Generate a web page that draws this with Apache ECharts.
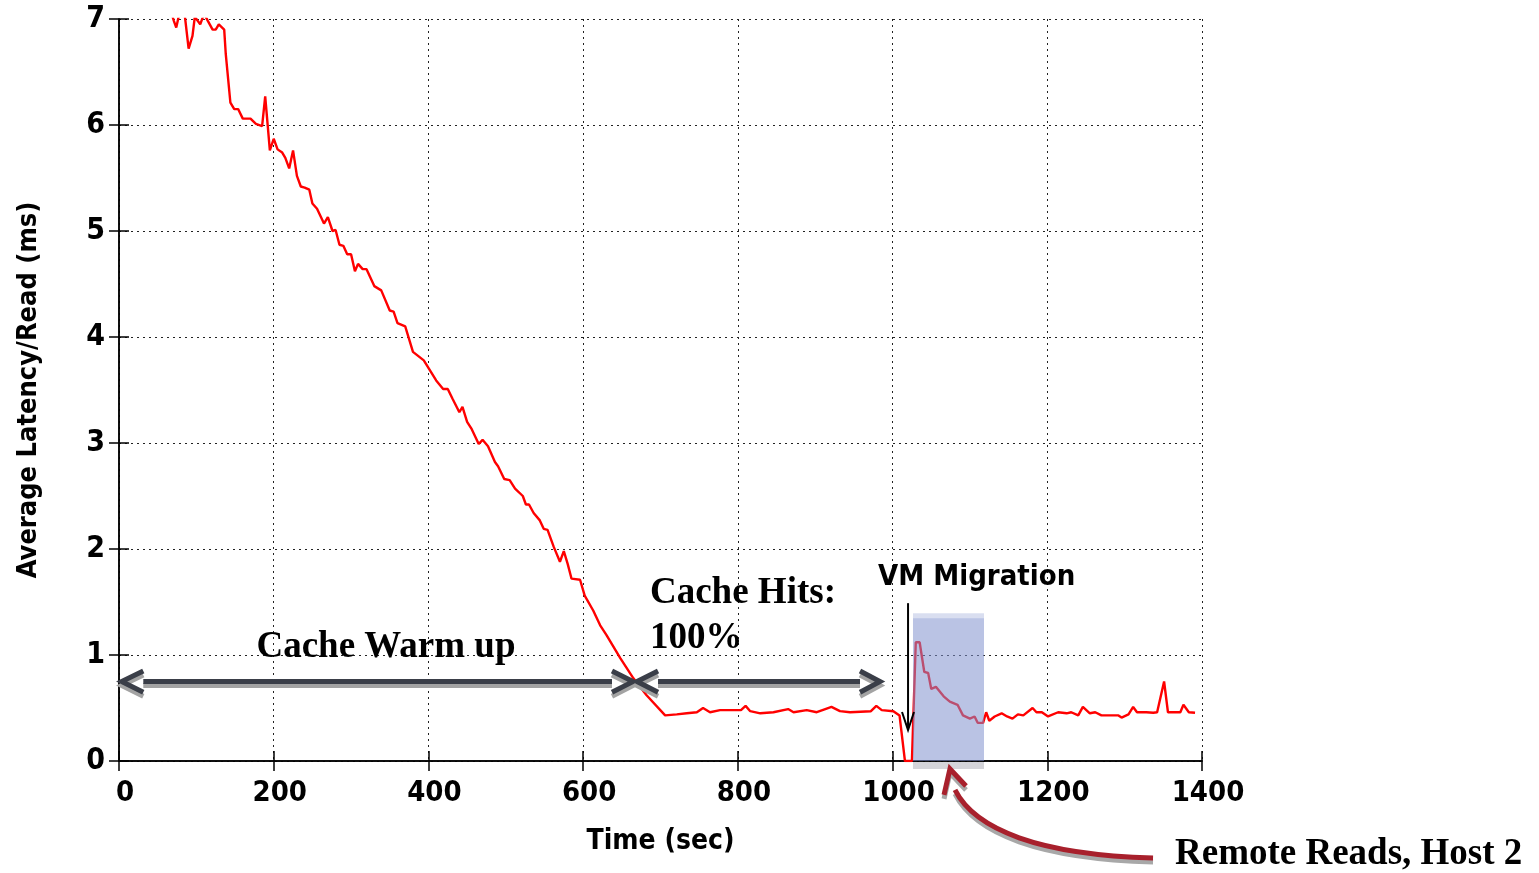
<!DOCTYPE html>
<html>
<head>
<meta charset="utf-8">
<script src="https://cdn.jsdelivr.net/npm/echarts@6/dist/echarts.min.js"></script>
<style>
  html, body { margin: 0; padding: 0; background: #fff; }
  #chart { width: 1539px; height: 873px; }
</style>
</head>
<body>
<div id="chart"></div>
<script>
// time (sec) and average latency per read (ms)
const timeSec = [
  60, 66, 71, 74, 78, 84, 90, 95, 98, 105, 110, 115, 121, 125, 129, 136, 138, 144, 149, 154,
  160, 170, 177, 185, 189, 195, 200, 205, 211, 215, 220, 225, 230, 235, 240, 246, 250, 256, 265, 270,
  276, 280, 285, 290, 295, 300, 305, 309, 315, 320, 330, 339, 350, 355, 360, 370, 380, 387, 394, 410,
  419, 425, 431, 440, 444, 450, 456, 465, 470, 477, 486, 490, 498, 505, 512, 522, 526, 530, 536, 544,
  549, 554, 562, 570, 575, 580, 585, 596, 602, 613, 622, 630, 648, 665, 682, 706, 721, 734, 747, 755,
  764, 777, 794, 804, 810, 816, 829, 846, 865, 872, 889, 902, 913, 921, 932, 945, 972, 979, 986, 1001,
  1009, 1016, 1025, 1030, 1035, 1041, 1046, 1050, 1056, 1066, 1074, 1084, 1091, 1100, 1106, 1110, 1117, 1121, 1125, 1132,
  1141, 1148, 1155, 1162, 1169, 1181, 1186, 1193, 1201, 1214, 1225, 1231, 1240, 1246, 1255, 1262, 1270, 1292, 1296, 1305,
  1311, 1316, 1328, 1337, 1342, 1351, 1356, 1372, 1376, 1383, 1391
]
const latency = [
  7.3, 7.1, 6.98, 6.92, 7.05, 7.1, 6.72, 6.84, 7.02, 6.95, 7.05, 6.98, 6.9, 6.9, 6.95, 6.9, 6.67, 6.21, 6.15, 6.15,
  6.06, 6.06, 6.01, 5.99, 6.27, 5.76, 5.87, 5.77, 5.74, 5.69, 5.59, 5.76, 5.52, 5.42, 5.41, 5.39, 5.26, 5.21, 5.07, 5.13,
  5.0, 5.01, 4.87, 4.86, 4.78, 4.78, 4.62, 4.69, 4.64, 4.64, 4.48, 4.44, 4.25, 4.24, 4.13, 4.1, 3.86, 3.82, 3.78, 3.59,
  3.51, 3.51, 3.42, 3.29, 3.34, 3.2, 3.13, 2.99, 3.03, 2.97, 2.82, 2.78, 2.66, 2.65, 2.57, 2.5, 2.42, 2.42, 2.34, 2.27,
  2.19, 2.18, 2.02, 1.88, 1.98, 1.86, 1.72, 1.71, 1.56, 1.42, 1.28, 1.19, 0.97, 0.78, 0.62, 0.43, 0.44, 0.45, 0.46, 0.5,
  0.46, 0.48, 0.48, 0.48, 0.52, 0.47, 0.45, 0.46, 0.49, 0.46, 0.48, 0.46, 0.49, 0.51, 0.47, 0.46, 0.47, 0.52, 0.48, 0.47,
  0.43, 0.0, 0.0, 1.12, 1.12, 0.84, 0.83, 0.68, 0.7, 0.61, 0.56, 0.53, 0.43, 0.4, 0.42, 0.36, 0.36, 0.46, 0.38, 0.42,
  0.45, 0.42, 0.4, 0.44, 0.43, 0.5, 0.46, 0.46, 0.42, 0.46, 0.45, 0.46, 0.43, 0.51, 0.45, 0.46, 0.43, 0.43, 0.41, 0.44,
  0.51, 0.46, 0.46, 0.455, 0.46, 0.75, 0.46, 0.46, 0.53, 0.46, 0.455
]
const xTicks = [0, 200, 400, 600, 800, 1000, 1200, 1400]
const yTicks = [0, 1, 2, 3, 4, 5, 6, 7]

const sansBold = "'DejaVu Sans Condensed', 'DejaVu Sans', sans-serif"
const serif = "'Liberation Serif', 'Times New Roman', serif"

const chart = echarts.init(document.getElementById('chart'))

const gridLine = { show: true, lineStyle: { color: '#222', type: [2, 4], width: 1 } }
const frameLine = { show: true, lineStyle: { color: '#000', width: 1.5 } }
const tickIn = { show: true, inside: true, length: 10, lineStyle: { color: '#000', width: 1.5 } }

chart.setOption({
  animation: false,
  grid: { left: 119, top: 19, width: 1083, height: 742, containLabel: false },
  xAxis: [
    {
      type: 'value',
      min: xTicks[0],
      max: xTicks[xTicks.length - 1],
      interval: 200,
      name: 'Time (sec)',
      nameLocation: 'middle',
      nameGap: 67,
      nameTextStyle: { fontFamily: sansBold, fontWeight: 'bold', fontSize: 28, color: '#000' },
      axisLine: frameLine,
      axisTick: tickIn,
      splitLine: gridLine,
      axisLabel: {
        margin: 18,
        padding: [0, 0, 0, 12],
        fontFamily: sansBold,
        fontWeight: 'bold',
        fontSize: 29,
        color: '#000',
        formatter: (v) => String(v),
      },
    },
    {
      type: 'value',
      position: 'top',
      min: xTicks[0],
      max: xTicks[xTicks.length - 1],
      interval: 200,
      axisLine: frameLine,
      axisTick: tickIn,
      axisLabel: { show: false },
      splitLine: { show: false },
    },
  ],
  yAxis: [
    {
      type: 'value',
      min: yTicks[0],
      max: yTicks[yTicks.length - 1],
      interval: 1,
      name: 'Average Latency/Read (ms)',
      nameLocation: 'middle',
      nameGap: 77,
      nameTextStyle: { fontFamily: sansBold, fontWeight: 'bold', fontSize: 27, color: '#000' },
      axisLine: frameLine,
      axisTick: tickIn,
      splitLine: gridLine,
      axisLabel: {
        margin: 14,
        padding: [3, 0, 0, 0],
        fontFamily: sansBold,
        fontWeight: 'bold',
        fontSize: 30,
        color: '#000',
      },
    },
    {
      type: 'value',
      position: 'right',
      min: yTicks[0],
      max: yTicks[yTicks.length - 1],
      interval: 1,
      axisLine: frameLine,
      axisTick: tickIn,
      axisLabel: { show: false },
      splitLine: { show: false },
    },
  ],
  series: [
    {
      type: 'line',
      data: timeSec.map((t, i) => [t, latency[i]]),
      showSymbol: false,
      clip: true,
      lineStyle: { color: '#ff0000', width: 2.4 },
      z: 2,
    },
  ],
})

// annotation anchors in data units, converted through the grid
const P = (t, v) => chart.convertToPixel({ gridIndex: 0 }, [t, v])

function chevronArrow(t0, t1, v, armT0, armT1) {
  const dv = 0.1
  const parts = []
  const build = (dy, color, z) => {
    const a = P(t0, v), b = P(t1, v)
    const la = P(armT0, v + dv), lb = P(armT0, v - dv)
    const ra = P(armT1, v + dv), rb = P(armT1, v - dv)
    const s = (p) => [p[0], p[1] + dy]
    parts.push({ type: 'line', z, shape: { x1: la[0], y1: a[1] + dy, x2: ra[0], y2: b[1] + dy },
      style: { stroke: color, lineWidth: 5 } })
    parts.push({ type: 'polyline', z, shape: { points: [s(la), s(a), s(lb)] },
      style: { stroke: color, lineWidth: 5, fill: null } })
    parts.push({ type: 'polyline', z, shape: { points: [s(ra), s(b), s(rb)] },
      style: { stroke: color, lineWidth: 5, fill: null } })
  }
  build(4, '#a3a3a3', 11)
  build(0, '#3a3e48', 12)
  return parts
}

function textAt(t, v, text, font, size, align) {
  const p = P(t, v)
  return {
    type: 'text', z: 20,
    style: { text, x: p[0], y: p[1], fontFamily: font, fontWeight: 'bold', fontSize: size,
      fill: '#000', align: align, verticalAlign: 'middle' },
  }
}

const r0 = P(1026.4, 1.394), r1 = P(1118.2, 1.347), r2 = P(1118.2, 0), r3 = P(1118.2, -0.066)
const arrowTop = P(1020, 1.489), arrowTip = P(1020, 0.292)
const arrL = P(1012.2, 0.462), arrR = P(1027.7, 0.462)
const tail = P(1336.7, -0.914), cp1 = P(1190.6, -0.886), cp2 = P(1106.6, -0.65), cEnd = P(1080.7, -0.273)
const tip = P(1074.2, -0.075), armL = P(1066.5, -0.32), armR = P(1094.9, -0.236)

function redArrow(dx, dy, color, z) {
  return [
    { type: 'bezierCurve', z,
      shape: { x1: tail[0] + dx, y1: tail[1] + dy, cpx1: cp1[0] + dx, cpy1: cp1[1] + dy,
        cpx2: cp2[0] + dx, cpy2: cp2[1] + dy, x2: cEnd[0] + dx, y2: cEnd[1] + dy },
      style: { stroke: color, lineWidth: 5, fill: null } },
    { type: 'polyline', z,
      shape: { points: [[armL[0] + dx, armL[1] + dy], [tip[0] + dx, tip[1] + dy], [armR[0] + dx, armR[1] + dy]] },
      style: { stroke: color, lineWidth: 5, fill: null } },
  ]
}

chart.setOption({
  graphic: [
    // remote read window
    { type: 'rect', z: 10, shape: { x: r0[0], y: r0[1], width: r1[0] - r0[0], height: r2[1] - r0[1] },
      style: { fill: 'rgba(130,145,205,0.3)' } },
    { type: 'rect', z: 10, shape: { x: r0[0], y: r1[1], width: r1[0] - r0[0], height: r2[1] - r1[1] },
      style: { fill: 'rgba(130,145,205,0.35)' } },
    { type: 'rect', z: 10, shape: { x: r0[0], y: r2[1] + 1, width: r1[0] - r0[0], height: r3[1] - r2[1] },
      style: { fill: 'rgba(160,160,170,0.45)' } },
    ...chevronArrow(3.5, 664.4, 0.749, 31.4, 637.3),
    ...chevronArrow(669.6, 983.7, 0.749, 696.8, 957.9),
    // migration marker
    { type: 'line', z: 15, shape: { x1: arrowTop[0], y1: arrowTop[1], x2: arrowTip[0], y2: arrowTip[1] },
      style: { stroke: '#000', lineWidth: 2 } },
    { type: 'polyline', z: 15, shape: { points: [arrL, arrowTip, arrR] },
      style: { stroke: '#000', lineWidth: 2, fill: null } },
    ...redArrow(0, 4, '#a8a8a8', 13),
    ...redArrow(0, 0, '#a8202c', 14),
    textAt(345.1, 1.074, 'Cache Warm up', serif, 37, 'center'),
    textAt(686.4, 1.583, 'Cache Hits:', serif, 37, 'left'),
    textAt(686.4, 1.159, '100%', serif, 37, 'left'),
    textAt(981.2, 1.734, 'VM Migration', sansBold, 29, 'left'),
    textAt(1365.1, -0.886, 'Remote Reads, Host 2', serif, 37, 'left'),
  ],
})
</script>
</body>
</html>
